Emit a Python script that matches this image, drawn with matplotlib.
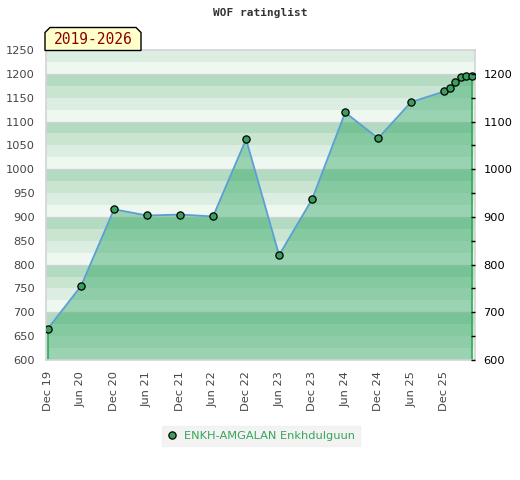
import matplotlib
matplotlib.use("Agg")
import matplotlib.pyplot as plt
from matplotlib.patches import Polygon
from matplotlib.lines import Line2D
import numpy as np

# ---- data ----
months = ["2019-12", "2020-06", "2020-12", "2021-06", "2021-12", "2022-06",
          "2022-12", "2023-06", "2023-12", "2024-06", "2024-12", "2025-06",
          "2025-12", "2026-01", "2026-02", "2026-03", "2026-04", "2026-05"]
ratings = [666, 755, 916, 903, 905, 901,
           1063, 820, 937, 1119, 1065, 1141,
           1163, 1170, 1182, 1193, 1196, 1196]
tick_labels = ["Dec 19", "Jun 20", "Dec 20", "Jun 21", "Dec 21", "Jun 22",
               "Dec 22", "Jun 23", "Dec 23", "Jun 24", "Dec 24", "Jun 25", "Dec 25"]
player = "ENKH-AMGALAN Enkhdulguun"
title = "WOF ratinglist"
period = "2019-2026"

def month_index(s):
    y, m = s.split("-")
    return (int(y) - 2019) * 12 + int(m) - 12

x = np.array([month_index(m) for m in months], dtype=float)
y = np.array(ratings, dtype=float)
xticks = [i * 6 for i in range(len(tick_labels))]

W, H = 520, 480
fig = plt.figure(figsize=(W / 100, H / 100), dpi=100)
L, R, T, B = 46, 475, 50, 360
ax = fig.add_axes([L / W, 1 - B / H, (R - L) / W, (B - T) / H])

ymin, ymax = 600, 1250
ax.set_ylim(ymin, ymax)
ax.set_xlim(-0.36, 77.6)

band_cols = ["#eff7f1", "#dcede2", "#c9e5d2", "#b3dbc1"]
for lo in range(ymin, ymax, 25):
    lvl = (lo % 100) // 25
    ax.axhspan(lo, lo + 25, color=band_cols[lvl], lw=0, zorder=0)
for g in range(ymin, ymax + 1, 100):
    ax.axhline(g, color="#d2d2d2", lw=0.9, zorder=0.5)

ax.fill_between(x, y, ymin, facecolor="#2ea661", alpha=0.44, lw=0, zorder=1)
ax.vlines([x[0], x[-1]], ymin, [y[0], y[-1]], color="#2eaa55", lw=1.2, zorder=2)
ax.plot(x, y, color="#5b9fd6", lw=1.3, zorder=3)
ax.plot(x, y, ls="none", marker="o", ms=5.2, mfc="#3a9f5c", mec="black",
        mew=0.9, zorder=4)

for s in ax.spines.values():
    s.set_color("#d4d4d4")
    s.set_linewidth(1.2)

ax.set_yticks(np.arange(ymin, ymax + 1, 50))
ax.tick_params(axis="y", length=0, pad=8, labelsize=8.2, labelcolor="#444444")
ax.set_xticks(xticks)
ax.set_xticklabels(tick_labels, rotation=90)
ax.tick_params(axis="x", length=0, pad=8, labelsize=8.2, labelcolor="#444444")

ax2 = ax.twinx()
ax2.set_ylim(ymin, ymax)
ax2.set_yticks(np.arange(600, 1201, 100))
ax2.set_yticks(np.arange(650, 1201, 100), minor=True)
ax2.tick_params(axis="y", which="both", direction="in", length=3, width=1,
                color="black", pad=6, labelsize=8.2, labelcolor="black")
for s in ax2.spines.values():
    s.set_visible(False)

fig.text(260 / W, 1 - 13 / H, title, ha="center", va="center",
         family="DejaVu Sans Mono", fontweight="bold", fontsize=8, color="#333333")

# period label with cut corners
x0, x1, y0, y1, c = 45, 141, 27.5, 50.5, 5
pts = [(x0, y1), (x0, y0 + c), (x0 + c, y0), (x1 - c, y0), (x1, y0 + c), (x1, y1)]
poly = Polygon([(px / W, 1 - py / H) for px, py in pts], closed=True,
               transform=fig.transFigure, facecolor="#ffffcc", edgecolor="black",
               lw=1, zorder=10)
fig.patches.append(poly)
fig.text(((x0 + x1) / 2) / W, 1 - 40 / H, period, ha="center", va="center",
         family="DejaVu Sans Mono", fontsize=10.5, color="#8b0000", zorder=11)

handle = Line2D([], [], ls="none", marker="o", ms=5.2, mfc="#3a9f5c",
                mec="black", mew=0.9)
leg = fig.legend([handle], [player], loc="center", bbox_to_anchor=(261 / W, 1 - 436 / H),
                 frameon=True, fancybox=False, fontsize=8.2, handlelength=0.8,
                 handletextpad=0.7, borderpad=0.45, labelcolor="#35a55a")
leg.get_frame().set_facecolor("#f0f0f0")
leg.get_frame().set_edgecolor("#f0f0f0")

fig.savefig("out.png", dpi=100)
